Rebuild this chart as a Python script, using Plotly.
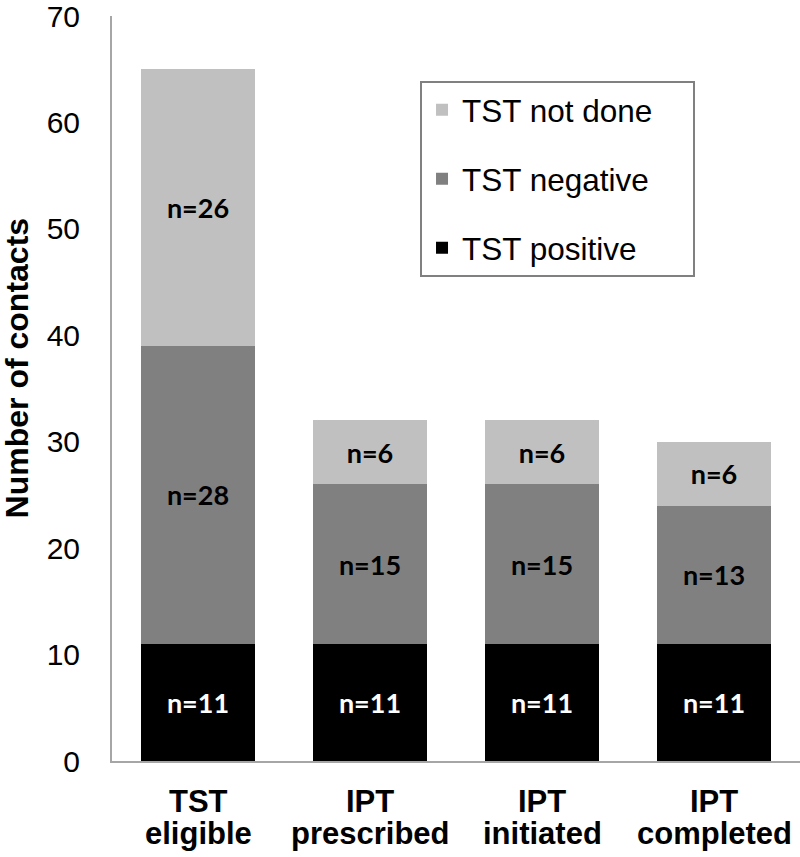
import plotly.graph_objects as go

categories = ["TST eligible", "IPT prescribed", "IPT initiated", "IPT completed"]
cat_line1 = ["TST", "IPT", "IPT", "IPT"]
cat_line2 = ["eligible", "prescribed", "initiated", "completed"]

tst_positive = [11, 11, 11, 11]
tst_negative = [28, 15, 15, 13]
tst_not_done = [26, 6, 6, 6]

y_ticks = [0, 10, 20, 30, 40, 50, 60, 70]

series = [
    ("TST positive", tst_positive, "#000000", "#ffffff", 3),
    ("TST negative", tst_negative, "#808080", "#000000", 2),
    ("TST not done", tst_not_done, "#c0c0c0", "#000000", 1),
]

fig = go.Figure()
for name, vals, color, tcolor, rank in series:
    fig.add_trace(go.Bar(
        x=categories, y=vals, name=name + "\u00a0" * 4,
        marker=dict(color=color, line=dict(width=0)),
        text=[f"n={v}" for v in vals],
        textposition="inside", insidetextanchor="middle",
        textangle=0,
        textfont=dict(family="Lato, Open Sans, sans-serif", size=27, color=tcolor, weight="bold"),
        legendgroup=name, legendrank=rank,
    ))

for c, l1, l2 in zip(categories, cat_line1, cat_line2):
    fig.add_annotation(x=c, y=0, xref="x", yref="y", text=f"<b>{l1}</b>",
                       showarrow=False, yanchor="top", yshift=-21,
                       font=dict(family="Liberation Sans, Arial, sans-serif", size=31, color="#000000"))
    fig.add_annotation(x=c, y=0, xref="x", yref="y", text=f"<b>{l2}</b>",
                       showarrow=False, yanchor="top", yshift=-53,
                       font=dict(family="Liberation Sans, Arial, sans-serif", size=31, color="#000000"))

fig.add_annotation(x=0, y=0.527, xref="paper", yref="paper", xanchor="center", yanchor="middle",
                   xshift=-95, textangle=-90, showarrow=False,
                   text="<b>Number of contacts</b>",
                   font=dict(family="Liberation Sans, Arial, sans-serif", size=32, color="#000000"))

fig.update_layout(
    width=800, height=857,
    margin=dict(l=112, r=0, t=16, b=96, autoexpand=False),
    barmode="stack", bargap=0.34,
    paper_bgcolor="#ffffff", plot_bgcolor="#ffffff",
    showlegend=True,
    legend=dict(
        x=0.4477, y=0.913, xanchor="left", yanchor="top",
        traceorder="grouped", tracegroupgap=25,
        bordercolor="#808080", borderwidth=2, bgcolor="#ffffff",
        font=dict(family="Liberation Sans, Arial, sans-serif", size=31.5, color="#000000"),
    ),
    xaxis=dict(
        showticklabels=False, showline=True, linecolor="#a6a6a6", linewidth=2,
        ticks="", showgrid=False, zeroline=False, automargin=False,
    ),
    yaxis=dict(
        range=[0, 70], tickvals=y_ticks, ticks="", showgrid=False, zeroline=False,
        showline=True, linecolor="#a6a6a6", linewidth=2, automargin=False,
        tickfont=dict(family="Liberation Sans, Arial, sans-serif", size=30, color="#000000"),
        ticklabelstandoff=24, ticklabeloverflow="allow",
    ),
)

fig.write_html("out.html", config={"displayModeBar": False},
               post_script="document.body.style.margin='0px';document.body.style.overflow='hidden';")
